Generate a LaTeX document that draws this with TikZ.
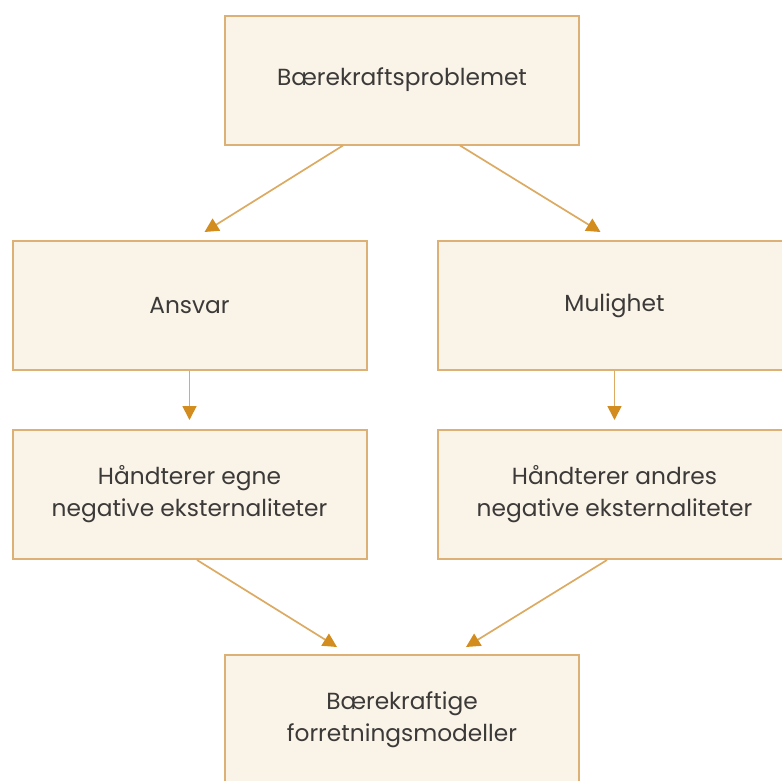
\documentclass[tikz,border=0pt]{standalone}
\usepackage{fontspec}
\setmainfont{Poppins}
\usetikzlibrary{arrows.meta}
\definecolor{boxfill}{HTML}{FAF3E8}
\definecolor{boxline}{HTML}{DDB175}
\definecolor{arrline}{HTML}{DCAA62}
\definecolor{arrtip}{HTML}{D38D1E}
\definecolor{txt}{HTML}{3C3A38}
\begin{document}
\begin{tikzpicture}[x=1pt, y=-1pt,
    box/.style={draw=boxline, fill=boxfill, line width=2pt, minimum width=354pt, minimum height=129pt,
        align=center, text=txt, font=\fontsize{23.3}{32}\selectfont},
    arr/.style={draw=arrline, line width=1.7pt, -{Triangle[length=14pt, width=14pt, color=arrtip]}}]
    \useasboundingbox (0,0) rectangle (782,780);

    % Top level
    \node[box] (problem) at (402,80) {Bærekraftsproblemet};

    % Two ways of seeing it
    \node[box] (ansvar) at (189.5,305.5) {Ansvar};
    \node[box] (mulighet) at (614.5,305.5) {Mulighet};

    % What each way deals with
    \node[box] (egne) at (189.5,494.5) {Håndterer egne\\negative eksternaliteter};
    \node[box] (andres) at (614.5,494.5) {Håndterer andres\\negative eksternaliteter};

    % Result
    \node[box] (modeller) at (402,719.5) {Bærekraftige\\forretningsmodeller};

    % Arrows from the problem
    \draw[arr] ([xshift=-59pt]problem.south) -- ([xshift=15pt, yshift=8pt]ansvar.north);
    \draw[arr] ([xshift=58pt]problem.south) -- ([xshift=-14pt, yshift=8pt]mulighet.north);

    % Straight down
    \draw[arr, shorten >=9pt] (ansvar) -- (egne);
    \draw[arr, shorten >=9pt] (mulighet) -- (andres);

    % Arrows into the business models
    \draw[arr] ([xshift=7.5pt]egne.south) -- ([xshift=-65pt, yshift=7pt]modeller.north);
    \draw[arr] ([xshift=-7.5pt]andres.south) -- ([xshift=64pt, yshift=7pt]modeller.north);
\end{tikzpicture}
\end{document}
